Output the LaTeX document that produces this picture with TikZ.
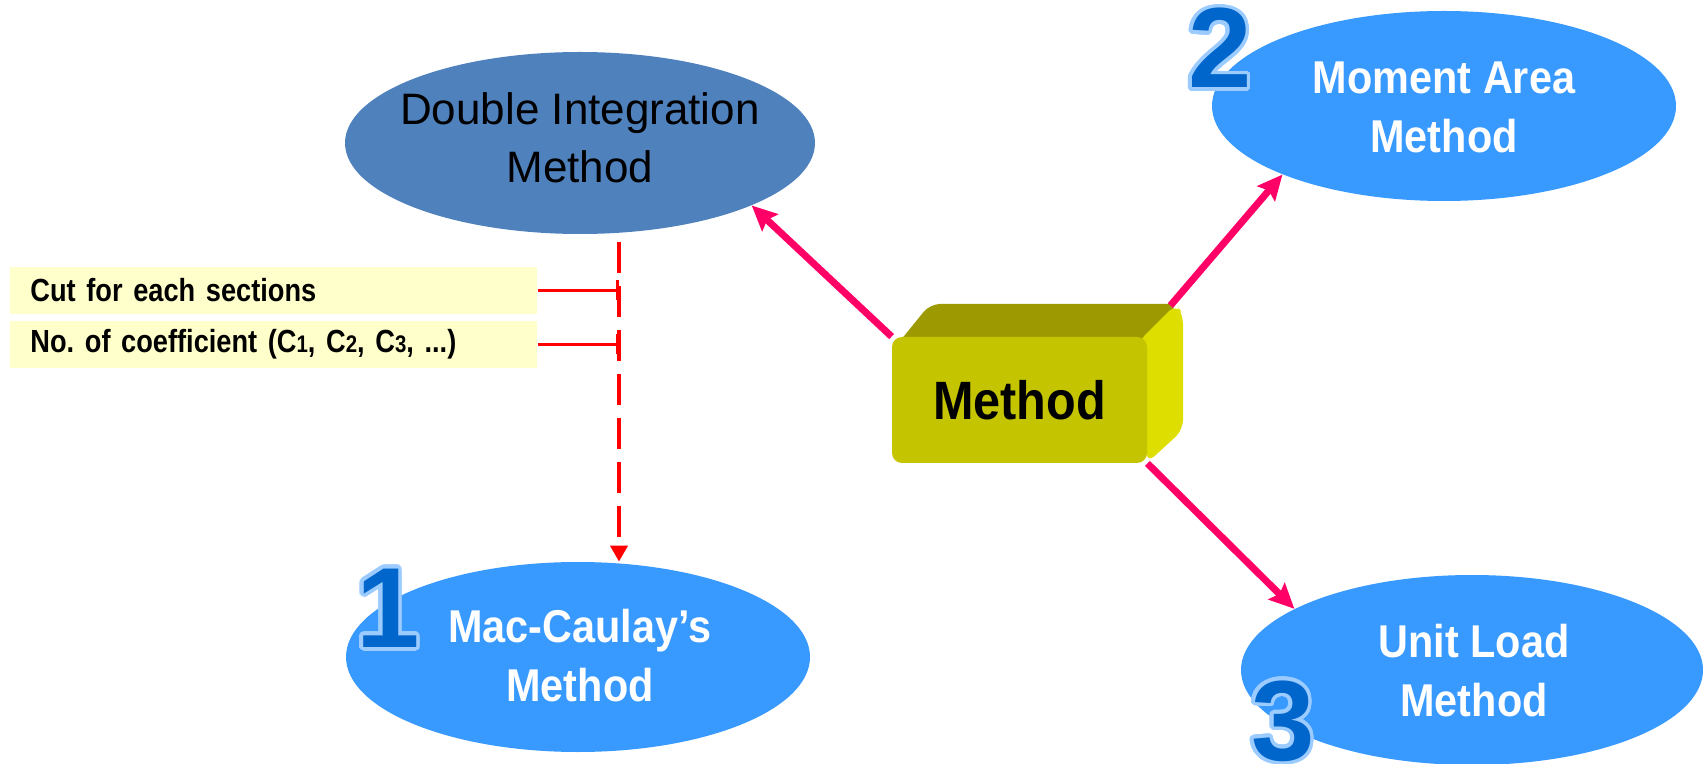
\documentclass[tikz,border=0pt]{standalone}
\usepackage{fontspec}
\setmainfont{Liberation Sans}
\newfontfamily\narrowfont{Liberation Sans}[FakeStretch=0.9]
\newfontfamily\notefont{Liberation Sans}[FakeStretch=0.85]
\usepackage{xcolor}
\usepackage{contour}
\usetikzlibrary{arrows.meta,shapes.geometric}

\definecolor{bluefill}{HTML}{3899FF}
\definecolor{steelfill}{HTML}{4F81BD}
\definecolor{notefill}{HTML}{FFFFCC}
\definecolor{linkpink}{HTML}{FF0066}
\definecolor{boxfront}{HTML}{C4C400}
\definecolor{boxtop}{HTML}{9C9A00}
\definecolor{boxside}{HTML}{DEDE00}
\definecolor{numblue}{HTML}{0066CC}
\definecolor{numrim}{HTML}{9CCCFF}
\contourlength{1.8pt}
\contournumber{32}

\begin{document}
\begin{tikzpicture}[x=0.5pt,y=-0.5pt,
  method/.style={ellipse,fill=bluefill,inner sep=0pt,minimum width=232pt,minimum height=95pt},
  mtext/.style={text=white,font=\narrowfont\bfseries\fontsize{23}{29.5}\selectfont,align=center,inner sep=0pt},
  note/.style={fill=notefill,text width=243.5pt,align=left,inner xsep=10pt,minimum height=23.5pt,font=\notefont\bfseries\fontsize{16}{16}\selectfont},
  num/.style={text=numblue,font=\bfseries\fontsize{57}{57}\selectfont,inner sep=0pt},
  link/.style={-{Stealth[length=12.5pt,width=11.5pt,inset=2pt]},draw=linkpink,line width=3.5pt},
  tick/.style={-{Bar[width=10pt]},draw=red,line width=1.5pt},
  cutline/.style={-{Triangle[length=8pt,width=8.5pt]},draw=red,line width=2.2pt,dash pattern=on 15.5pt off 6.5pt}]
\useasboundingbox (0,0) rectangle (1703,764);

% the four methods
\node[ellipse,fill=steelfill,inner sep=0pt,minimum width=235pt,minimum height=91pt] (DI) at (580,143) {};
\node[align=center,inner sep=0pt,font=\fontsize{22}{29}\selectfont] (DIt) at (580,138) {Double Integration\\Method};
\node[method] (MC) at (578,657) {};
\node[mtext] (MCt) at (580,656) {Mac-Caulay’s\\Method};
\node[method] (MA) at (1444,106) {};
\node[mtext] (MAt) at (1444,107) {Moment Area\\Method};
\node[method,minimum width=231pt] (UL) at (1472,670) {};
\node[mtext] (ULt) at (1474,671) {Unit Load\\Method};

\node[num] (N1) at (388,610) {\contour{numrim}{1}};
\node[num] (N2) at (1220,50) {\contour{numrim}{2}};
\node[num] (N3) at (1283,723) {\contour{numrim}{3}};

% the block in the middle
\fill[boxtop,rounded corners=5pt] (896,346) -- (930,304) -- (1178,304) -- (1150,340) -- cycle;
\fill[boxside,rounded corners=5pt] (1138,342) -- (1176,304) -- (1183,314) -- (1183,430) -- (1147,463) -- cycle;
\node[fill=boxfront,rounded corners=5pt,minimum width=127.5pt,minimum height=63pt,inner sep=0pt,font=\narrowfont\bfseries\fontsize{27}{27}\selectfont] (M) at (1019.5,400) {Method};

% notes
\node[note,anchor=west] (L1) at (10,290.5) {Cut for each sections};
\node[note,anchor=west] (L2) at (10,344.5) {No.\ of coefficient (C{\fontsize{12}{12}\selectfont 1}, C{\fontsize{12}{12}\selectfont 2}, C{\fontsize{12}{12}\selectfont 3}, ...)};
\coordinate (D0) at (619,242);
\coordinate (T1) at (619,290.5);
\coordinate (T2) at (619,344.5);

\path (D0) edge[cutline] (D0 |- MC.north);
\path (L1) edge[tick] (T1);
\path (L2) edge[tick] (T2);

\path (M.north west) edge[link] (DI.-20);
\path ([shift={(11.5pt,15.5pt)}]M.north east) edge[link] (MA.203);
\path (M.south east) edge[link] (UL.161);

\end{tikzpicture}
\end{document}
